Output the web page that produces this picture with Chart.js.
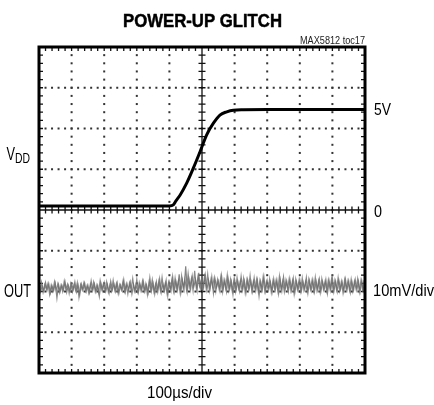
<!DOCTYPE html>
<html><head><meta charset="utf-8">
<script src="https://cdn.jsdelivr.net/npm/chart.js@4"></script>
<style>html,body{margin:0;padding:0;background:#fff}canvas{display:block}</style>
</head><body>
<canvas id="c" width="434" height="405"></canvas>
<script>
// ---- data ----
const titleText = 'POWER-UP GLITCH';
const noteText = 'MAX5812 toc17';
const timeScaleLabel = '100\u00b5s/div';
const vddScaleLabels = ['5V', '0'];
const vddScaleValues = [5, 0];
const outScaleLabel = '10mV/div';
const traceNames = ['V', 'DD', 'OUT'];

// VDD trace: time (µs) and volts (2 V/div)
const vddTimeUs = [0, 100, 200, 300, 400, 412, 420, 433, 453, 473, 494, 514, 535, 555, 576, 596, 627, 700, 800, 900, 1000];
const vddVolts  = [0.2, 0.2, 0.2, 0.2, 0.2, 0.25, 0.45, 0.74, 1.32, 2.04, 2.86, 3.68, 4.26, 4.66, 4.82, 4.90, 4.92, 4.93, 4.93, 4.93, 4.93];

// OUT trace, two overlaid sweeps: mV deviation (10 mV/div), one sample every 5 µs
const outSampleUs = 5;
const outMilliVoltsA = [
  0.8,-1.1,0.5,-0.9,1.2,-0.6,0.9,-1.4,0.4,-0.8,
  1.0,-2.6,0.7,-1.0,0.6,-0.7,1.3,-1.2,0.5,-0.9,
  0.9,-0.5,1.4,-1.1,0.6,-1.8,0.8,-0.6,1.1,-1.0,
  0.5,-1.3,1.6,-0.7,0.9,-1.1,0.4,-2.2,1.0,-0.8,
  1.2,-0.9,0.7,-1.4,1.5,-0.6,0.8,-1.0,1.1,-1.5,
  0.6,-0.8,1.9,-1.1,0.9,-0.7,1.3,-1.6,0.7,-0.9,
  2.0,-1.2,0.8,-0.8,1.5,-1.0,0.6,-1.3,2.4,-0.9,
  1.0,-1.6,1.4,-0.7,2.1,-1.2,0.9,-0.9,1.7,-2.0,
  1.2,-0.8,2.6,-1.0,1.5,-0.6,3.2,-1.3,1.8,-0.4,
  5.2,-0.9,2.0,-0.5,2.8,0.2,1.9,-0.7,3.6,-0.2,
  2.4,0.0,3.0,-0.6,1.8,-0.3,2.6,-1.4,2.1,0.1,
  1.6,-0.8,2.9,-0.5,1.7,-1.0,2.2,-0.4,1.5,-1.7,
  2.0,-0.6,1.4,-0.9,2.7,-0.5,1.6,-1.2,1.9,-0.3,
  1.5,-1.0,2.3,-0.7,1.8,-2.1,1.4,-0.6,2.5,-0.9,
  1.7,-0.4,1.3,-1.1,2.1,-0.6,1.6,-1.5,1.9,-0.8,
  2.6,-0.5,1.5,-1.0,1.8,-0.7,2.2,-1.2,1.4,-0.6,
  1.9,-0.9,1.3,-0.5,2.4,-1.3,1.6,-0.7,1.8,-1.1,
  1.5,-0.6,2.0,-0.9,1.4,-0.5,1.9,-1.4,1.6,-0.7,
  2.3,-0.8,1.5,-1.0,1.7,-0.5,1.3,-0.9,2.0,-0.6,
  1.6,-1.2,1.4,-0.7,1.9,-0.6,1.5,-1.0,1.7,-0.8,
  1.2
];
const outMilliVoltsB = [
  -0.6,1.3,-1.2,0.7,-0.5,1.0,-1.7,0.6,-0.9,1.4,
  -0.7,0.9,-1.3,0.5,-1.0,1.6,-0.4,0.8,-1.5,0.9,
  -1.1,0.6,-0.8,1.2,-2.4,0.7,-0.6,1.1,-0.9,0.5,
  -1.4,0.8,-0.7,1.3,-1.0,0.6,-1.2,1.7,-0.5,0.9,
  -0.8,1.4,-1.1,0.6,-0.9,1.8,-0.7,1.0,-1.3,0.7,
  -0.6,1.5,-1.0,0.8,-1.6,1.1,-0.5,2.2,-0.9,0.6,
  -1.1,1.2,-0.7,1.6,-0.9,0.9,-1.8,1.3,-0.6,1.9,
  -1.0,0.8,-1.2,1.5,-0.8,2.5,-0.6,1.1,-1.4,1.3,
  -0.5,1.9,-0.9,2.3,-0.4,1.6,-1.1,2.8,-0.3,2.0,
  -0.6,3.4,0.1,2.2,-0.8,4.1,-0.2,2.6,0.3,1.8,
  -0.5,2.7,-0.1,3.3,-0.7,2.0,0.2,2.4,-0.9,1.9,
  -0.4,2.5,-1.1,1.8,-0.2,3.1,-0.6,2.0,-0.8,1.7,
  -1.0,2.4,-0.3,1.6,-0.7,2.2,-1.3,1.8,-0.5,2.9,
  -0.8,1.5,-0.4,2.0,-1.0,1.7,-0.6,2.6,-0.9,1.4,
  -0.5,2.1,-1.2,1.6,-0.3,1.9,-0.8,2.8,-0.6,1.5,
  -1.1,1.8,-0.4,2.2,-0.7,1.6,-1.6,2.0,-0.5,1.7,
  -0.9,2.3,-0.6,1.4,-1.0,2.0,-0.4,1.8,-0.8,2.5,
  -0.7,1.6,-1.2,2.1,-0.5,1.5,-0.9,1.9,-0.3,2.2,
  -1.0,1.7,-0.6,2.4,-0.8,1.5,-1.3,1.9,-0.5,1.6,
  -0.7,2.0,-0.9,1.5,-0.4,2.1,-1.1,1.7,-0.6,1.8
];

// scope screen: 10 x 8 divisions
const timeMinUs = 0, timeMaxUs = 1000, timePerDivUs = 100;
const vddMinV = -8, vddMaxV = 8, voltsPerDiv = 2;
const outMinMv = -21, outMaxMv = 59;
const subDivs = 5;

const vddPoints = vddTimeUs.map((t, i) => ({x: t, y: vddVolts[i]}));
const outPointsA = outMilliVoltsA.map((v, i) => ({x: i * outSampleUs, y: v}));
const outPointsB = outMilliVoltsB.map((v, i) => ({x: (i + 0.5) * outSampleUs, y: v}));

const FONT = "'Liberation Sans Narrow','Liberation Sans',Arial,sans-serif";

function fitText(ctx, s, x, y, w, font, color, stroke) {
  ctx.save();
  ctx.font = font; ctx.fillStyle = color;
  ctx.textBaseline = 'alphabetic'; ctx.textAlign = 'left';
  const m = ctx.measureText(s).width;
  ctx.translate(x, y); ctx.scale(w / m, 1);
  ctx.fillText(s, 0, 0);
  if (stroke) { ctx.strokeStyle = color; ctx.lineWidth = stroke; ctx.lineJoin = 'round'; ctx.strokeText(s, 0, 0); }
  ctx.restore();
}

const scopeGrid = {
  id: 'scopeGrid',
  beforeDatasetsDraw(chart) {
    const ctx = chart.ctx, xs = chart.scales.x, ys = chart.scales.y;
    const L = xs.getPixelForValue(timeMinUs), R = xs.getPixelForValue(timeMaxUs);
    const T = ys.getPixelForValue(vddMaxV), B = ys.getPixelForValue(vddMinV);
    ctx.save();
    ctx.fillStyle = '#333';
    const minorT = timePerDivUs / subDivs, minorV = voltsPerDiv / subDivs;
    for (let t = timeMinUs + timePerDivUs; t < timeMaxUs; t += timePerDivUs) {
      if (t === (timeMinUs + timeMaxUs) / 2) continue;
      const px = xs.getPixelForValue(t);
      for (let v = vddMinV + minorV; v < vddMaxV - 1e-9; v += minorV) {
        const py = ys.getPixelForValue(v);
        ctx.fillRect(px - 1, py - 1, 2, 2);
      }
    }
    for (let v = vddMinV + voltsPerDiv; v < vddMaxV; v += voltsPerDiv) {
      if (v === 0) continue;
      const py = ys.getPixelForValue(v);
      for (let t = timeMinUs + minorT; t < timeMaxUs - 1e-9; t += minorT) {
        const px = xs.getPixelForValue(t);
        ctx.fillRect(px - 1, py - 1, 2, 2);
      }
    }
    ctx.strokeStyle = '#111';
    ctx.lineWidth = 1.3;
    const cx = xs.getPixelForValue((timeMinUs + timeMaxUs) / 2);
    const cy = ys.getPixelForValue(0);
    ctx.beginPath();
    ctx.moveTo(cx, T); ctx.lineTo(cx, B);
    ctx.moveTo(L, cy); ctx.lineTo(R, cy);
    for (let v = vddMinV + minorV; v < vddMaxV - 1e-9; v += minorV) {
      const py = ys.getPixelForValue(v);
      ctx.moveTo(cx - 3.5, py); ctx.lineTo(cx + 3.5, py);
      ctx.moveTo(L, py); ctx.lineTo(L + 4, py);
      ctx.moveTo(R, py); ctx.lineTo(R - 4, py);
    }
    for (let t = timeMinUs + minorT; t < timeMaxUs - 1e-9; t += minorT) {
      const px = xs.getPixelForValue(t);
      ctx.moveTo(px, cy - 3.5); ctx.lineTo(px, cy + 3.5);
      ctx.moveTo(px, T); ctx.lineTo(px, T + 4);
      ctx.moveTo(px, B); ctx.lineTo(px, B - 4);
    }
    ctx.stroke();
    ctx.restore();
  },
  afterDatasetsDraw(chart) {
    const ctx = chart.ctx, xs = chart.scales.x, ys = chart.scales.y;
    const L = xs.getPixelForValue(timeMinUs), R = xs.getPixelForValue(timeMaxUs);
    const T = ys.getPixelForValue(vddMaxV), B = ys.getPixelForValue(vddMinV);
    ctx.save();
    ctx.strokeStyle = '#000'; ctx.lineWidth = 3;
    ctx.strokeRect(L, T, R - L, B - T);
    ctx.restore();
  },
  afterDraw(chart) {
    const ctx = chart.ctx, xs = chart.scales.x, ys = chart.scales.y, y2 = chart.scales.y2;
    const R = xs.getPixelForValue(timeMaxUs);
    fitText(ctx, titleText, 123, 27, 159, 'bold 19px ' + FONT, '#000', 0.5);
    fitText(ctx, noteText, 300, 44, 65, '10px ' + FONT, '#222');
    vddScaleLabels.forEach((s, i) => {
      const py = ys.getPixelForValue(vddScaleValues[i]);
      fitText(ctx, s, R + 9, py + 6.5, s.length === 1 ? 8 : 17, '17px ' + FONT, '#000');
    });
    const oy = y2.getPixelForValue(0);
    fitText(ctx, outScaleLabel, R + 8, oy + 9, 61, '17px ' + FONT, '#000');
    fitText(ctx, traceNames[2], 4, oy + 10, 27, '18.5px ' + FONT, '#000');
    fitText(ctx, traceNames[0], 6.5, 160, 8.5, '18.5px ' + FONT, '#000');
    fitText(ctx, traceNames[1], 15, 163, 15, '15px ' + FONT, '#000');
    fitText(ctx, timeScaleLabel, 147, 398, 65, '17px ' + FONT, '#000');
  }
};

new Chart(document.getElementById('c'), {
  type: 'line',
  data: {
    datasets: [
      {data: outPointsA, yAxisID: 'y2', borderColor: 'rgba(110,110,110,0.85)', borderWidth: 1.2, pointRadius: 0, tension: 0},
      {data: outPointsB, yAxisID: 'y2', borderColor: 'rgba(120,120,120,0.85)', borderWidth: 1.2, pointRadius: 0, tension: 0},
      {data: vddPoints, yAxisID: 'y', borderColor: '#000', borderWidth: 3, pointRadius: 0, tension: 0.3, cubicInterpolationMode: 'monotone'}
    ]
  },
  options: {
    responsive: false, animation: false, devicePixelRatio: 1,
    layout: {padding: {left: 39, right: 69, top: 47, bottom: 32}},
    plugins: {legend: {display: false}, tooltip: {enabled: false}},
    scales: {
      x: {type: 'linear', min: timeMinUs, max: timeMaxUs, display: false},
      y: {type: 'linear', min: vddMinV, max: vddMaxV, display: false},
      y2: {type: 'linear', min: outMinMv, max: outMaxMv, display: false}
    }
  },
  plugins: [scopeGrid]
});
</script>
</body></html>
